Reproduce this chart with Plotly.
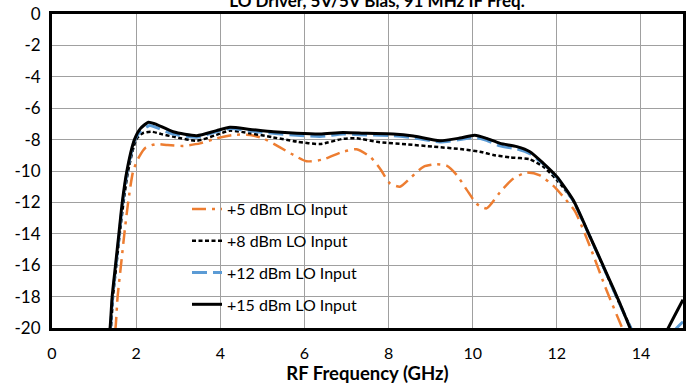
import plotly.graph_objects as go

# ---- data ----
x_p5 = [1.40, 1.51, 1.56, 1.64, 1.72, 1.81, 1.93, 2.07, 2.23, 2.49, 2.75, 3.12, 3.52, 3.91, 4.31, 4.71, 5.02, 5.42, 5.74,
        6.05, 6.45, 6.92, 7.24, 7.56, 7.80, 8.03, 8.27, 8.51, 8.83, 9.14, 9.38, 9.62, 9.86, 10.10, 10.33, 10.65,
        10.96, 11.28, 11.60, 11.92, 12.15, 12.43, 12.79, 13.18, 13.54, 13.80]
y_p5 = [-22.0, -20.0, -18.0, -16.0, -14.0, -12.0, -10.0, -9.1, -8.5, -8.28, -8.35, -8.4, -8.24, -7.92, -7.7, -7.7, -7.92,
        -8.5, -8.98, -9.38, -9.26, -8.77, -8.62, -9.09, -9.85, -10.78, -11.0, -10.47, -9.73, -9.57, -9.66, -10.25,
        -11.2, -12.1, -12.38, -11.35, -10.5, -10.1, -10.28, -10.95, -11.63, -12.55, -14.82, -17.58, -19.9, -21.5]

x_p8 = [1.30, 1.40, 1.45, 1.53, 1.61, 1.70, 1.81, 2.00, 2.15, 2.37, 2.60, 2.88, 3.44, 3.91, 4.23, 4.71, 5.26, 5.82,
        6.37, 6.92, 7.24, 7.80, 8.43, 9.06, 9.70, 10.17, 10.49, 10.89, 11.36, 11.68, 12.00, 12.39, 12.79, 13.18,
        13.50, 13.76, 14.00]
y_p8 = [-21.5, -20.0, -18.0, -16.0, -14.0, -12.0, -10.0, -8.0, -7.6, -7.5, -7.65, -7.81, -8.07, -7.7, -7.43, -7.6,
        -7.86, -8.13, -8.28, -7.95, -7.92, -8.17, -8.3, -8.45, -8.6, -8.77, -8.98, -9.13, -9.26, -9.73, -10.57,
        -11.9, -14.2, -16.55, -18.5, -20.0, -21.5]

x_p12 = [1.30, 1.39, 1.44, 1.52, 1.60, 1.68, 1.79, 1.97, 2.10, 2.32, 2.45, 2.88, 3.44, 3.91, 4.23, 4.71, 5.26, 5.82,
         6.37, 6.92, 7.48, 8.11, 8.59, 9.22, 9.70, 10.05, 10.33, 10.65, 11.05, 11.36, 11.68, 12.00, 12.39, 12.79,
         13.18, 13.50, 13.76, 14.20, 14.85, 15.00]
y_p12 = [-21.5, -20.0, -18.0, -16.0, -14.0, -12.0, -10.0, -8.0, -7.5, -7.1, -7.2, -7.65, -7.85, -7.5, -7.3, -7.45,
         -7.6, -7.72, -7.8, -7.65, -7.7, -7.75, -7.88, -8.15, -8.0, -7.85, -8.05, -8.4, -8.6, -8.9, -9.55, -10.4,
         -11.9, -14.2, -16.55, -18.5, -20.0, -22.0, -20.0, -19.6]

x_p15 = [1.30, 1.38, 1.43, 1.51, 1.59, 1.67, 1.78, 1.96, 2.10, 2.29, 2.45, 2.88, 3.44, 3.91, 4.23, 4.71, 5.26, 5.82,
         6.37, 6.92, 7.48, 8.11, 8.59, 9.22, 9.70, 10.05, 10.33, 10.65, 11.05, 11.36, 11.68, 12.00, 12.39, 12.79,
         13.18, 13.50, 13.74, 14.00, 14.30, 14.65, 15.00]
y_p15 = [-21.5, -20.0, -18.0, -16.0, -14.0, -12.0, -10.0, -8.0, -7.3, -6.9, -7.0, -7.5, -7.75, -7.43, -7.22, -7.35,
         -7.5, -7.6, -7.65, -7.54, -7.6, -7.64, -7.77, -8.07, -7.9, -7.72, -7.92, -8.24, -8.45, -8.77, -9.51, -10.36,
         -11.85, -14.18, -16.5, -18.43, -20.0, -21.6, -22.0, -20.0, -18.2]

series_names = ["+5 dBm LO Input", "+8 dBm LO Input", "+12 dBm LO Input", "+15 dBm LO Input"]
x_ticks = [0, 2, 4, 6, 8, 10, 12, 14]
x_ticklabels = ["0", "2", "4", "6", "8", "10", "12", "14"]
y_ticks = [0, -2, -4, -6, -8, -10, -12, -14, -16, -18, -20]
y_ticklabels = ["0", "-2", "-4", "-6", "-8", "-10", "-12", "-14", "-16", "-18", "-20"]

FONT = "Lato, Carlito, 'Open Sans', sans-serif"

fig = go.Figure()
styles = [
    dict(color="#ED7D31", width=2.5, dash="14px,6px,3px,6px"),
    dict(color="#000000", width=2.5, dash="4px,2.5px"),
    dict(color="#5B9BD5", width=3, dash="15px,6px"),
    dict(color="#000000", width=3, dash="solid"),
]
for xs, ys, name, st, grp in zip([x_p5, x_p8, x_p12, x_p15], [y_p5, y_p8, y_p12, y_p15],
                                 series_names, styles, ["a", "b", "c", "d"]):
    fig.add_trace(go.Scatter(x=xs, y=ys, name=name, mode="lines", legendgroup=grp,
                             line=dict(color=st["color"], width=st["width"], dash=st["dash"],
                                       shape="spline", smoothing=0.6)))

W, H = 692, 385
L, R, T, B = 52, 9, 14, 57
pw, ph = W - L - R, H - T - B

def px_x(p):
    return (p - L) / pw

def px_y(p):
    return 1 - (p - T) / ph

fig.add_shape(type="rect", xref="paper", yref="paper", layer="between",
              x0=px_x(152), x1=px_x(373), y0=px_y(317), y1=px_y(195),
              fillcolor="white", line=dict(width=0))

fig.update_layout(
    width=W, height=H,
    margin=dict(l=L, r=R, t=T, b=B, autoexpand=False),
    paper_bgcolor="white", plot_bgcolor="white",
    font=dict(family=FONT, color="#000000", size=16),
    title=dict(text="<b>LO Driver, 5V/5V Bias, 91 MHz IF Freq.</b>", x=377 / W, xanchor="center",
               y=1 - 1 / H, yanchor="middle", xref="container", yref="container",
               font=dict(size=17, family=FONT)),
    legend=dict(x=187 / W, y=1 - 192 / H, xref="container", yref="container", xanchor="left", yanchor="top",
                bgcolor="rgba(0,0,0,0)", borderwidth=0, traceorder="grouped", tracegroupgap=8,
                font=dict(size=16, family=FONT)),
    showlegend=True,
)
fig.update_xaxes(range=[0, 15], tickvals=x_ticks, ticktext=x_ticklabels, showgrid=True, gridcolor="#A0A0A0",
                 gridwidth=1.3, zeroline=False, showline=True, linecolor="black", linewidth=3, mirror=True,
                 ticks="outside", ticklen=9, tickcolor="rgba(0,0,0,0)", tickfont=dict(size=16),
                 title=dict(text="<b>RF Frequency (GHz)</b>", font=dict(size=18.5), standoff=4))
fig.update_yaxes(range=[-20, 0], tickvals=y_ticks, ticktext=y_ticklabels, showgrid=True, gridcolor="#A0A0A0",
                 gridwidth=1.3, zeroline=False, showline=True, linecolor="black", linewidth=3, mirror=True,
                 ticks="outside", ticklen=5, tickcolor="rgba(0,0,0,0)", tickfont=dict(size=17))

fig.write_html("out.html", post_script="document.body.style.margin='0';",
               config={"displayModeBar": False})
